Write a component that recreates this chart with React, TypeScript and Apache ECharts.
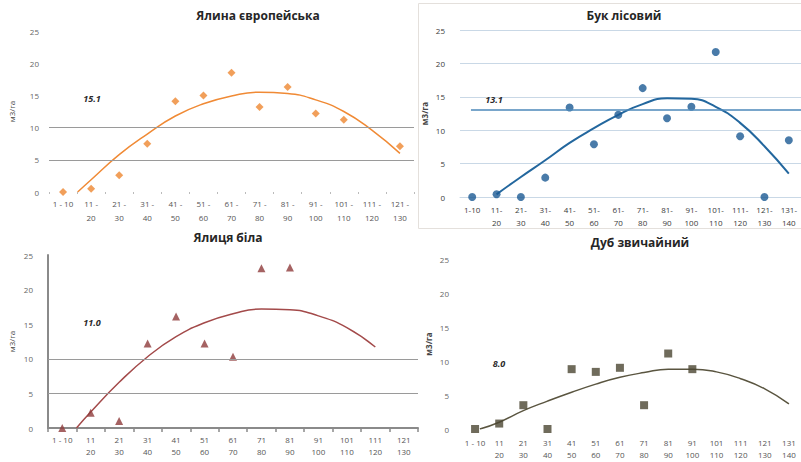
import React, { useEffect, useRef } from "react";
import * as echarts from "echarts";

// ---- data ----
const CATS_SPRUCE = ["1 - 10", "11 -\n20", "21 -\n30", "31 -\n40", "41 -\n50", "51 -\n60", "61 -\n70", "71 -\n80", "81 -\n90", "91 -\n100", "101 -\n110", "111 -\n120", "121 -\n130"];
const CATS_BEECH = ["1-10", "11-\n20", "21-\n30", "31-\n40", "41-\n50", "51-\n60", "61-\n70", "71-\n80", "81-\n90", "91-\n100", "101-\n110", "111-\n120", "121-\n130", "131-\n140"];
const CATS_FIR = ["1 - 10", "11\n20", "21\n30", "31\n40", "41\n50", "51\n60", "61\n70", "71\n80", "81\n90", "91\n100", "101\n110", "111\n120", "121\n130"];
const CATS_OAK = ["1 - 10", "11\n20", "21\n30", "31\n40", "41\n50", "51\n60", "61\n70", "71\n80", "81\n90", "91\n100", "101\n110", "111\n120", "121\n130", "131\n140"];

const SPRUCE = [0, 0.5, 2.6, 7.5, 14.1, 15.0, 18.5, 13.2, 16.3, 12.2, 11.2, null, 7.1];
const SPRUCE_TREND = [[0.52, 0], [1, 1.9], [2, 5.8], [3, 9.0], [4, 11.8], [5, 13.7], [6, 14.9], [7, 15.5], [8, 15.3], [9, 14.3], [10, 12.5], [11, 9.6], [12, 6.0]];

const BEECH = [0, 0.4, 0, 2.9, 13.4, 7.9, 12.3, 16.3, 11.8, 13.5, 21.7, 9.1, 0, 8.5];
const BEECH_TREND = [[1, 0.4], [2, 3.0], [3, 5.5], [4, 8.1], [5, 10.3], [6, 12.3], [7, 13.9], [8, 14.8], [9, 14.7], [10, 13.5], [11, 11.1], [12, 7.6], [13, 3.5]];

const FIR = [0, 2.2, 1.0, 12.2, 16.1, 12.2, 10.3, 23.1, 23.2, null, null, null, null];
const FIR_TREND = [[0.5, 0], [1, 2.3], [2, 6.6], [3, 10.3], [4, 13.2], [5, 15.2], [6, 16.5], [7, 17.2], [8, 17.1], [9, 16.2], [10, 14.5], [11, 11.7]];

const OAK = [0, 0.8, 3.5, 0, 8.8, 8.4, 9.0, 3.5, 11.1, 8.8, null, null, null, null];
const OAK_TREND = [[0.2, 0], [1, 1.0], [2, 2.7], [3, 4.1], [4, 5.4], [5, 6.6], [6, 7.6], [7, 8.3], [8, 8.8], [9, 8.8], [10, 8.4], [11, 7.4], [12, 5.9], [13, 3.7]];

const MEANS = ["15.1", "13.1", "11.0", "8.0"];
const MEAN_BEECH = 13.1;
const TITLES = ["Ялина європейська", "Бук лісовий", "Ялиця біла", "Дуб звичайний"];
const Y_NAME = "м3/га";
const GUIDE_LINES = [5, 10];

const FONT = "'Open Sans', 'DejaVu Sans', sans-serif";

export default function App() {
  const ref = useRef<HTMLDivElement>(null);
  useEffect(() => {
    if (!ref.current) return;
    const chart = echarts.init(ref.current, null, { renderer: "svg" });

    const grids = [
      { left: 49, top: 31, width: 365, height: 161 },
      { left: 460, top: 30, width: 341, height: 167 },
      { left: 48, top: 255, width: 370, height: 173 },
      { left: 463, top: 259, width: 342, height: 170 },
    ];
    const cats = [CATS_SPRUCE, CATS_BEECH, CATS_FIR, CATS_OAK];
    const xMargins = [4, 6, 5, 7];
    const xLineH = [14, 13, 12, 12];
    const yMargins = [10, 15, 15, 14];
    const nameGaps = [34, 32, 33, 31];

    const xAxis: any[] = [];
    const yAxis: any[] = [];
    cats.forEach((c, k) => {
      xAxis.push({
        type: "category",
        gridIndex: k,
        data: c,
        axisLine: { show: k === 1 || k === 2, onZero: false, lineStyle: { color: k === 1 ? "#C9D8E6" : "#8a8a8a", width: k === 2 ? 2 : 1 } },
        axisTick: { show: k === 0 || k === 2, length: k === 0 ? 2 : 4, lineStyle: { color: k === 0 ? "#bbbbbb" : "#8a8a8a", width: k === 2 ? 1.5 : 1 } },
        axisLabel: {
          fontSize: 8,
          color: k === 1 ? "#3a3a3a" : "#555",
          fontFamily: FONT,
          lineHeight: xLineH[k],
          margin: xMargins[k],
          interval: 0,
        },
        splitLine: { show: false },
      });
      xAxis.push({
        type: "value",
        gridIndex: k,
        position: "bottom",
        min: -0.5,
        max: c.length - 0.5,
        show: false,
      });
      yAxis.push({
        type: "value",
        gridIndex: k,
        min: 0,
        max: 25,
        interval: 5,
        name: Y_NAME,
        nameLocation: "middle",
        nameRotate: 90,
        nameGap: nameGaps[k],
        nameTextStyle: { fontSize: 8, color: "#444", fontFamily: FONT, fontWeight: k === 1 || k === 3 ? "bold" : "normal" },
        axisLine: { show: k === 2, onZero: false, lineStyle: { color: "#8a8a8a", width: 2 } },
        axisTick: { show: false },
        axisLabel: { fontSize: 8, color: k === 1 ? "#3a3a3a" : "#666", fontFamily: FONT, margin: yMargins[k] },
        splitLine: { show: k === 1, lineStyle: { color: "#C9D8E6", width: 1 } },
      });
    });

    const guide = (color: string) => ({
      silent: true,
      symbol: "none",
      label: { show: false },
      lineStyle: { color, type: "solid", width: 1 },
      data: GUIDE_LINES.map((v) => ({ yAxis: v })),
    });

    const series: any[] = [
      // Spruce
      {
        type: "scatter", xAxisIndex: 0, yAxisIndex: 0, data: SPRUCE,
        symbol: "diamond", symbolSize: 8, itemStyle: { color: "#EE8731" },
        markLine: guide("#9a9a9a"), z: 3,
      },
      {
        type: "line", xAxisIndex: 1, yAxisIndex: 0, data: SPRUCE_TREND, smooth: 0.5,
        showSymbol: false, symbol: "none", lineStyle: { color: "#F08A35", width: 1.5 },
      },
      // Beech
      {
        type: "scatter", xAxisIndex: 2, yAxisIndex: 1, data: BEECH,
        symbol: "circle", symbolSize: 8, itemStyle: { color: "#1C5A93" }, z: 3,
      },
      {
        type: "line", xAxisIndex: 3, yAxisIndex: 1, data: BEECH_TREND, smooth: 0.5,
        showSymbol: false, symbol: "none", lineStyle: { color: "#23679E", width: 2 },
        markLine: {
          silent: true, symbol: "none", label: { show: false },
          lineStyle: { color: "#4C88BA", type: "solid", width: 1.5 },
          data: [[{ coord: [-0.05, MEAN_BEECH] }, { coord: [13.5, MEAN_BEECH] }]],
        },
      },
      // Fir
      {
        type: "scatter", xAxisIndex: 4, yAxisIndex: 2, data: FIR,
        symbol: "triangle", symbolSize: 8, itemStyle: { color: "#8E3B3B" },
        markLine: guide("#9a9a9a"), z: 3,
      },
      {
        type: "line", xAxisIndex: 5, yAxisIndex: 2, data: FIR_TREND, smooth: 0.5,
        showSymbol: false, symbol: "none", lineStyle: { color: "#A34A4A", width: 1.5 },
      },
      // Oak
      {
        type: "scatter", xAxisIndex: 6, yAxisIndex: 3, data: OAK,
        symbol: "rect", symbolSize: 8, itemStyle: { color: "#4B4632" }, z: 3,
      },
      {
        type: "line", xAxisIndex: 7, yAxisIndex: 3, data: OAK_TREND, smooth: 0.5,
        showSymbol: false, symbol: "none", lineStyle: { color: "#5A5540", width: 1.5 },
      },
    ];

    const titlePos = [[258, 15], [624, 15], [228, 237], [640, 242]];
    const meanPos = [[92, 98], [494, 99], [92, 322], [499, 363]];

    const graphic: any[] = [
      {
        type: "rect", z: -10, silent: true,
        shape: { x: 418.5, y: 3.5, width: 400, height: 225 },
        style: { fill: "#ffffff", stroke: "#E4E0DC", lineWidth: 1 },
      },
    ];
    TITLES.forEach((t, k) => {
      graphic.push({
        type: "text", x: titlePos[k][0], y: titlePos[k][1], z: 10,
        style: {
          text: t, fontSize: 12, fontWeight: "bold", fill: "#262626",
          fontFamily: FONT, textAlign: "center", textVerticalAlign: "middle",
        },
      });
    });
    MEANS.forEach((t, k) => {
      graphic.push({
        type: "text", x: meanPos[k][0], y: meanPos[k][1], z: 10,
        style: {
          text: t, fontSize: 9, fontWeight: "bold", fontStyle: "italic", fill: "#2a2a2a",
          fontFamily: FONT, textAlign: "center", textVerticalAlign: "middle",
        },
      });
    });

    chart.setOption({
      animation: false,
      backgroundColor: "#ffffff",
      grid: grids,
      xAxis,
      yAxis,
      series,
      graphic,
    });
    return () => chart.dispose();
  }, []);

  return (
    <div
      ref={ref}
      style={{ position: "absolute", left: 0, top: 0, width: 801, height: 462 }}
    />
  );
}
